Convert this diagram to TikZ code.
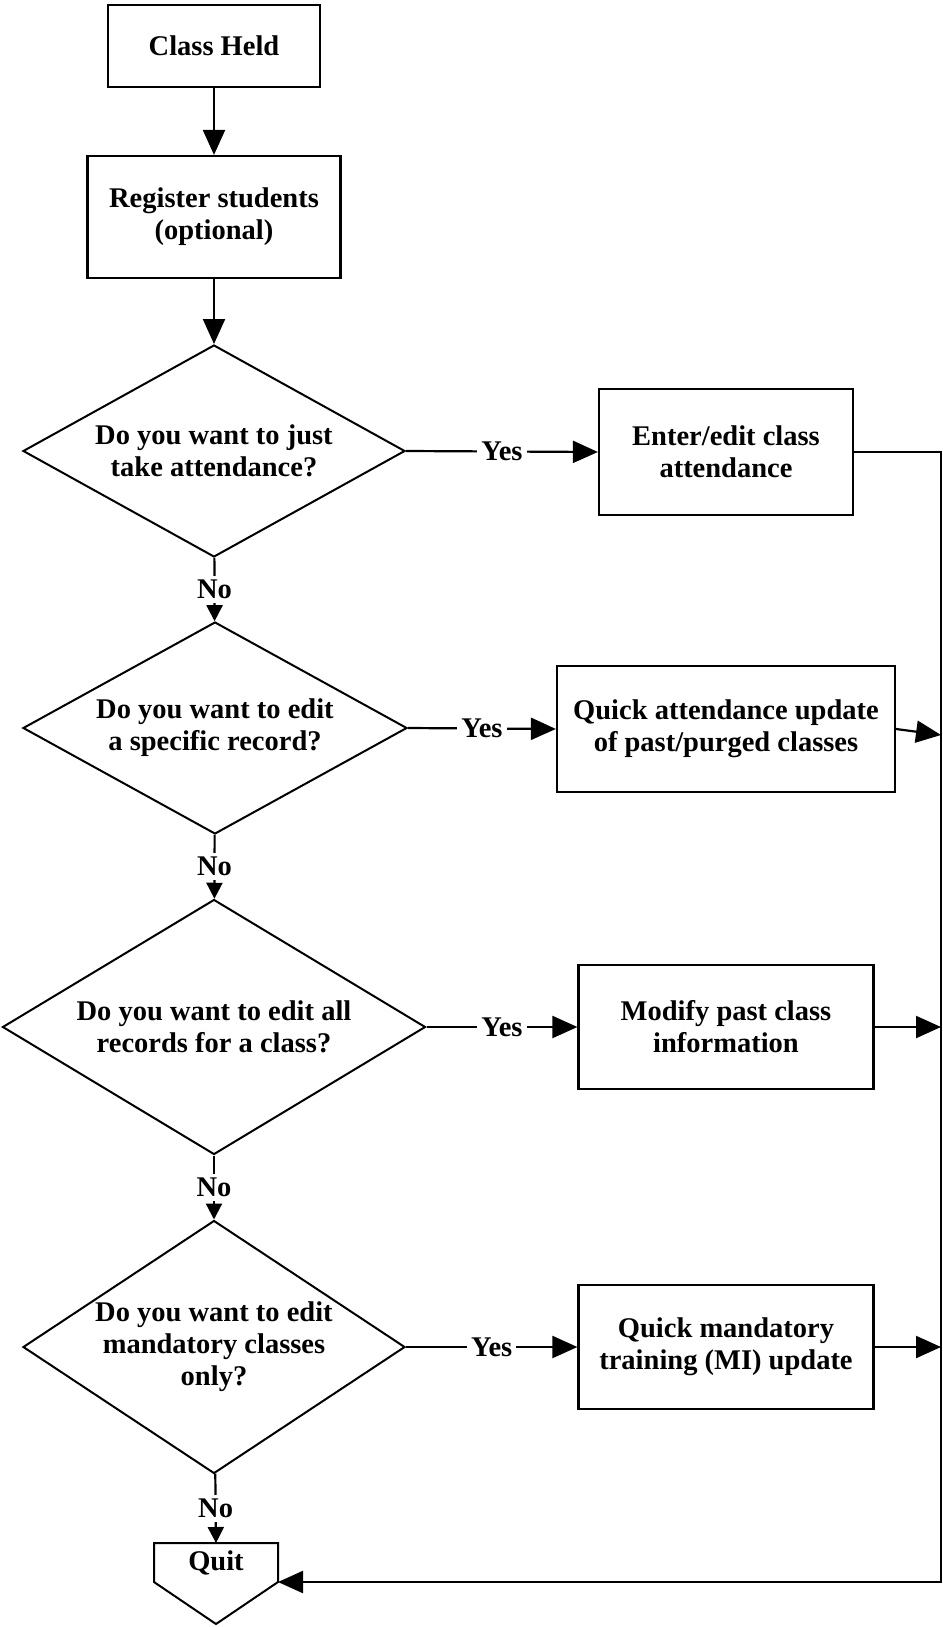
\documentclass[tikz,border=0pt]{standalone}
\usepackage{fontspec}
\setmainfont{Liberation Serif}
\usetikzlibrary{arrows.meta,shapes.geometric}
\tikzset{
  txt/.style={font=\fontsize{28.5}{32}\selectfont\bfseries, align=center},
  stepbox/.style={draw, txt, line width=2.2pt, inner sep=0pt},
  decision/.style={diamond, draw, line width=2pt, inner sep=0pt},
  asks/.style={txt},
  link/.style={line width=2.2pt},
  bigarrow/.style={link, -{Triangle[length=25pt,width=22pt]}},
  smallarrow/.style={link, -{Triangle[length=16pt,width=16pt]}},
  answer/.style={txt, fill=white, inner sep=4pt}
}

\begin{document}
\begin{tikzpicture}[x=1pt,y=-1pt]
            \useasboundingbox (0,0) rectangle (942,1627);
            % main column
            \node (held) [stepbox, minimum width=212, minimum height=82] at (214,46) {Class Held};
            \node (reg) [stepbox, minimum width=253, minimum height=122] at (214,217) {Register students\\(optional)};
            \node (q1) [decision, minimum width=382, minimum height=212,
                label={[asks]center:Do you want to just\\take attendance?}] at (214,451) {};
            \node (q2) [decision, minimum width=384, minimum height=212,
                label={[asks]center:Do you want to edit\\a specific record?}] at (215,728) {};
            \node (q3) [decision, minimum width=423, minimum height=255,
                label={[asks]center:Do you want to edit all\\records for a class?}] at (214,1027) {};
            \node (q4) [decision, minimum width=382, minimum height=253,
                label={[asks]center:Do you want to edit\\mandatory classes\\only?}] at (214,1347) {};
            \node (quit) [txt, minimum width=124, minimum height=39, inner sep=0pt, outer sep=0pt] at (216,1562.5) {Quit};
            \draw[line width=2pt] (quit.north west) -- (quit.north east) -- (quit.south east)
                -- ++(-62,42) -- (quit.south west) -- cycle;
            % right column
            \node (enter) [stepbox, minimum width=254, minimum height=126] at (726,452) {Enter/edit class\\attendance};
            \node (quick) [stepbox, minimum width=338, minimum height=126] at (726,729) {Quick attendance update\\of past/purged classes};
            \node (modify) [stepbox, minimum width=295, minimum height=124] at (726,1027) {Modify past class\\information};
            \node (mand) [stepbox, minimum width=295, minimum height=124] at (726,1347) {Quick mandatory\\training (MI) update};
            \coordinate (busx) at (941,0);

            \draw[bigarrow] (held) -- (reg);
            \draw[bigarrow] (reg) -- (q1);
            \draw[smallarrow] (q1) -- node[answer]{No} (q2);
            \draw[smallarrow] (q2) -- node[answer]{No} (q3);
            \draw[smallarrow] (q3) -- node[answer]{No} (q4);
            \draw[smallarrow] (q4) -- node[answer]{No} (quit.north);
            \foreach \q/\s in {q1/enter,q2/quick,q3/modify,q4/mand}{
                \draw[bigarrow] (\q.east) -- node[answer]{Yes} (\s.west);
            }
            \draw[bigarrow] (enter.east) -- (enter.east -| busx) |- (quit.south east);
            \draw[bigarrow] (quick.east) -- ([yshift=-6pt]quick.east -| busx);
            \foreach \s in {modify,mand}{
                \draw[bigarrow] (\s.east) -- (\s.east -| busx);
            }
        \end{tikzpicture}
\end{document}
